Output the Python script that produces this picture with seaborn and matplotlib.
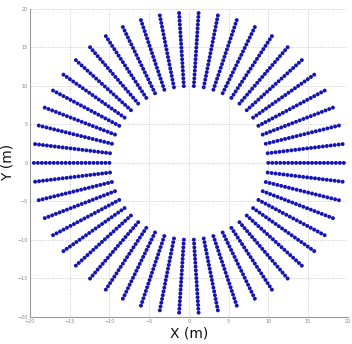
import numpy as np
import pandas as pd
import matplotlib
matplotlib.use("Agg")
import matplotlib.pyplot as plt
import seaborn as sns

# Bearing of each radial survey line, in degrees
ray_angles_deg = [
    0.0, 7.2, 14.4, 21.6, 28.8, 36.0, 43.2, 50.4, 57.6, 64.8,
    72.0, 79.2, 86.4, 93.6, 100.8, 108.0, 115.2, 122.4, 129.6, 136.8,
    144.0, 151.2, 158.4, 165.6, 172.8, 180.0, 187.2, 194.4, 201.6, 208.8,
    216.0, 223.2, 230.4, 237.6, 244.8, 252.0, 259.2, 266.4, 273.6, 280.8,
    288.0, 295.2, 302.4, 309.6, 316.8, 324.0, 331.2, 338.4, 345.6, 352.8,
]
# Distance of each sample point from the centre along a line, in metres
sample_radii = [
    10.0, 10.5, 11.0, 11.5, 12.0, 12.5, 13.0, 13.5, 14.0, 14.5,
    15.0, 15.5, 16.0, 16.5, 17.0, 17.5, 18.0, 18.5, 19.0, 19.5,
]
x_ticks = [-20, -15, -10, -5, 0, 5, 10, 15, 20]
y_ticks = [-20, -15, -10, -5, 0, 5, 10, 15, 20]

rows = []
for a in ray_angles_deg:
    t = np.deg2rad(a)
    for r in sample_radii:
        rows.append({"x": r * np.cos(t), "y": r * np.sin(t)})
df = pd.DataFrame(rows)

sns.set_style("white")
fig = plt.figure(figsize=(3.52, 3.44), dpi=100)
ax = fig.add_axes([0.085, 0.079, 0.903, 0.895])

sns.scatterplot(data=df, x="x", y="y", ax=ax, s=8, color="#1414b4",
                edgecolor="none", linewidth=0, legend=False)

ax.set_xlim(-20, 20)
ax.set_ylim(-20, 20)
ax.set_xticks(x_ticks)
ax.set_yticks(y_ticks)
ax.tick_params(axis="both", labelsize=3.5, colors="#888888", length=2,
               width=0.5, pad=1.5, direction="in")
ax.grid(True, color="#cccccc", linestyle=(0, (1.5, 1.5)), linewidth=0.6)
ax.set_axisbelow(True)
for side in ("top", "right"):
    ax.spines[side].set_visible(False)
for side in ("left", "bottom"):
    ax.spines[side].set_color("#999999")
    ax.spines[side].set_linewidth(0.8)

ax.set_xlabel("X (m)", fontsize=10, labelpad=2, color="#111111")
ax.set_ylabel("Y (m)", fontsize=10, labelpad=2, color="#111111")

fig.savefig("out.png", dpi=100)
